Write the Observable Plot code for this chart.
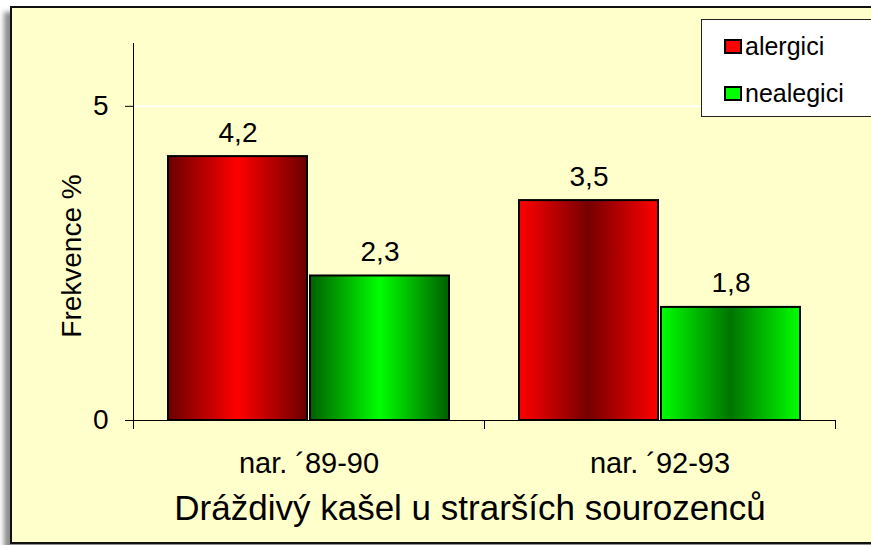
<!DOCTYPE html>
<html>
<head>
<meta charset="utf-8">
<script src="https://cdn.jsdelivr.net/npm/d3@7"></script>
<script src="https://cdn.jsdelivr.net/npm/@observablehq/plot@0.6"></script>
<style>
  body { margin: 0; background: #fff; font-family: "Liberation Sans", Arial, sans-serif; overflow: hidden; }
  #frame { position: absolute; left: 10px; top: 6px; width: 900px; height: 534px; border: 2px solid #111;
           background: #FFFFCC; box-shadow: -6px 6px 5px rgba(0,0,0,0.45); }
  #chart { position: absolute; left: 0; top: 0; }
  #title { position: absolute; left: 0; width: 940px; top: 490px; text-align: center; font-size: 35px; line-height: 35px; color: #000; }
  #legend { position: absolute; left: 701px; top: 19px; width: 200px; height: 96px; background: #fff; border: 1px solid #222; }
  .sw { position: absolute; left: 22px; width: 14px; height: 11px; border: 2px solid #000; }
  .lt { position: absolute; left: 43px; font-size: 25px; line-height: 25px; color: #000; white-space: nowrap; }
</style>
</head>
<body>
<div id="frame"></div>
<div id="chart"></div>
<div id="title"></div>
<div id="legend"></div>
<script>
// ---- data ----
const categories = ["nar. \u00B489-90", "nar. \u00B492-93"];
const series = ["alergici", "nealegici"];
const alergici = [4.2, 3.5];
const nealegici = [2.3, 1.8];
const yTicks = [0, 5];
const yLabel = "Frekvence %";
const title = "Dráždivý kašel u strarších sourozenců";

const data = categories.flatMap((c, i) => [
  {cat: c, s: series[0], v: alergici[i], g: i},
  {cat: c, s: series[1], v: nealegici[i], g: i}
]);
const fmt = v => d3.format(".1f")(v).replace(".", ",");
const gradId = d => `grad${d.g}${series.indexOf(d.s)}`;

// gradient stops per group (0: dark edges, 1: bright edges)
const gradStops = {
  grad00: ["#6a0000", "#ff0000", "#6a0000"],
  grad01: ["#006000", "#00ff00", "#006000"],
  grad10: ["#ff0000", "#760000", "#ff0000"],
  grad11: ["#00ff00", "#007400", "#00ff00"]
};

const W = 871, H = 480, MT = 43, MB = 60, ML = 133, MR = 36;

const svg = Plot.plot({
  width: W, height: H,
  marginTop: MT, marginBottom: MB, marginLeft: ML, marginRight: MR,
  style: {fontFamily: "'Liberation Sans', Arial, sans-serif", background: "transparent", color: "#000", overflow: "visible"},
  fx: {domain: categories, padding: 0, axis: null},
  x: {domain: series, paddingInner: 0.02, paddingOuter: 0.24, axis: null},
  y: {domain: [0, 6], axis: null},
  color: {type: "identity"},
  marks: [
    Plot.ruleY([5], {stroke: "#fff", strokeWidth: 1.5}),
    Plot.barY(data, {fx: "cat", x: "s", y: "v", fill: d => `url(#${gradId(d)})`, stroke: "#000", strokeWidth: 2}),
    Plot.ruleY([0], {stroke: "#000"}),
    Plot.frame({anchor: "left", facetAnchor: "left", insetBottom: -8, stroke: "#000"}),
    Plot.frame({anchor: "right", insetTop: H - MT - MB, insetBottom: -8, stroke: "#000"}),
    Plot.axisY({ticks: yTicks, tickFormat: d => String(d), tickSize: 8, tickPadding: 17, fontSize: 28, label: null, stroke: "#000"}),
    Plot.text(data, {fx: "cat", x: "s", y: "v", text: d => fmt(d.v), dy: -15, lineAnchor: "bottom", fontSize: 28, fill: "#000"}),
    Plot.text(categories, {fx: d => d, text: d => d, frameAnchor: "bottom", dy: 52, lineAnchor: "bottom", fontSize: 29, fill: "#000"}),
    Plot.text([yLabel], {frameAnchor: "left", facetAnchor: "left", textAnchor: "middle", rotate: -90, dx: -61, dy: 24, fontSize: 28, fill: "#000"})
  ]
});

const defs = d3.select(svg).insert("defs", ":first-child");
for (const [id, stops] of Object.entries(gradStops)) {
  const lg = defs.append("linearGradient").attr("id", id).attr("x1", "0%").attr("x2", "100%").attr("y1", "0%").attr("y2", "0%");
  stops.forEach((c, i) => lg.append("stop").attr("offset", `${i * 50}%`).attr("stop-color", c));
}
document.getElementById("chart").appendChild(svg);

document.getElementById("title").textContent = title;

const legendColors = ["#ff0000", "#00ff00"];
const legend = document.getElementById("legend");
series.forEach((s, i) => {
  const sw = document.createElement("div");
  sw.className = "sw";
  sw.style.top = (19 + i * 47) + "px";
  sw.style.background = legendColors[i];
  legend.appendChild(sw);
  const t = document.createElement("div");
  t.className = "lt";
  t.style.top = (14 + i * 46.5) + "px";
  t.textContent = s;
  legend.appendChild(t);
});
</script>
</body>
</html>
